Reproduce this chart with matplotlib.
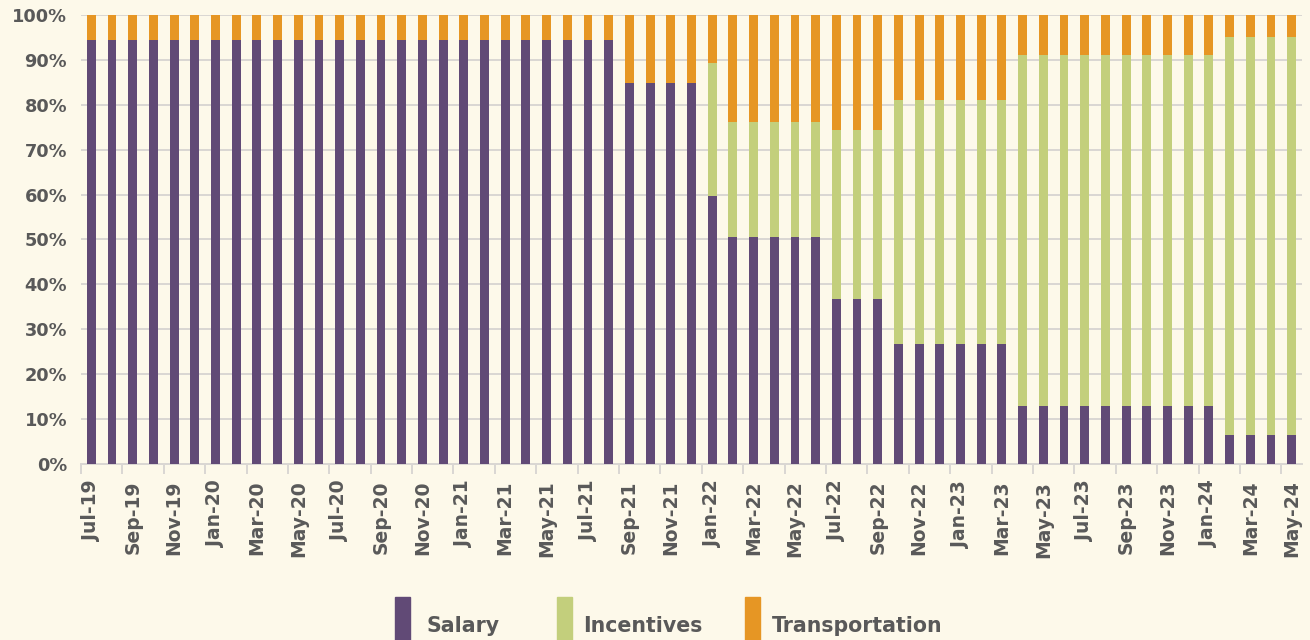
import matplotlib
matplotlib.use("Agg")
import matplotlib.pyplot as plt
import numpy as np
from matplotlib.patches import Rectangle

# ---- data ----
mon = ["Jan", "Feb", "Mar", "Apr", "May", "Jun", "Jul", "Aug", "Sep", "Oct", "Nov", "Dec"]
months = [f"{m}-{y}" for y in range(19, 25) for m in mon]
months = months[months.index("Jul-19"): months.index("May-24") + 1]

salary = ([94.4] * 26 + [84.8] * 4 + [59.7] + [50.6] * 5 + [36.8] * 3 +
          [26.8] * 6 + [13.0] * 10 + [6.5] * 4)
incentives = ([0.0] * 26 + [0.0] * 4 + [29.6] + [25.6] * 5 + [37.5] * 3 +
              [54.3] * 6 + [78.0] * 10 + [88.7] * 4)
transportation = [100 - s - i for s, i in zip(salary, incentives)]

series_names = ["Salary", "Incentives", "Transportation"]
colors = ["#614A76", "#C3CF7C", "#E69624"]
bg = "#FDF9EA"
text_col = "#595959"
grid_col = "#DAD7D3"

plt.rcParams['font.family'] = ['DejaVu Sans']

fig = plt.figure(figsize=(13.1, 6.4), dpi=100, facecolor=bg)
ax = fig.add_axes([0.0618, 0.275, 0.9321, 0.7016], facecolor=bg)

x = np.arange(len(months))
w = 0.43
bottom = np.zeros(len(months))
for vals, c in zip([salary, incentives, transportation], colors):
    ax.bar(x, vals, w, bottom=bottom, color=c, zorder=3, linewidth=0)
    bottom += np.array(vals)

ax.set_xlim(-0.5, len(months) - 0.5)
ax.set_ylim(0, 100)
ax.set_yticks(np.arange(0, 101, 10))
ax.set_yticklabels([f"{v}%" for v in range(0, 101, 10)], fontsize=12.8,
                   fontweight='bold', color=text_col)
ax.tick_params(axis='y', length=0, pad=10)
ax.yaxis.grid(True, color=grid_col, linewidth=1.4, zorder=0)
ax.set_axisbelow(True)

ax.set_xticks(x[::2])
ax.set_xticklabels(months[::2], rotation=90, fontsize=13.5, fontweight='bold',
                   color=text_col)
ax.set_xticks(np.arange(-0.5, len(months), 2), minor=True)
ax.tick_params(axis='x', which='major', length=0, pad=12)
ax.tick_params(axis='x', which='minor', length=7, width=1.4, color=grid_col)

for s in ['top', 'right', 'left']:
    ax.spines[s].set_visible(False)
ax.spines['bottom'].set_color(grid_col)
ax.spines['bottom'].set_linewidth(1.4)

# legend
leg_x = [395, 557, 745]
txt_x = [427, 583, 772]
for lx, tx, name, c in zip(leg_x, txt_x, series_names, colors):
    fig.add_artist(Rectangle((lx / 1310, 0), 15 / 1310, 43 / 640,
                             transform=fig.transFigure, color=c))
    fig.text(tx / 1310, 1 - 632 / 640, name, fontsize=14.8, fontweight='bold',
             color=text_col, va='baseline', ha='left')

fig.savefig("out.png", dpi=100, facecolor=bg)
